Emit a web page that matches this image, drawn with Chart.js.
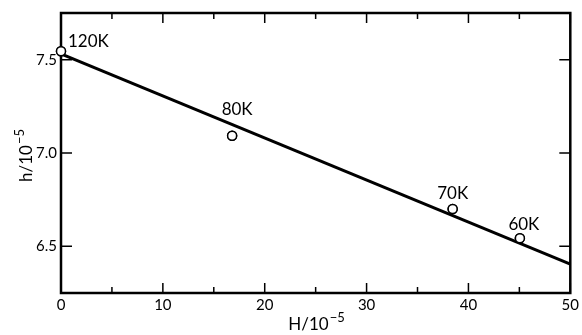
<!DOCTYPE html>
<html>
<head>
<meta charset="utf-8">
<script src="https://cdn.jsdelivr.net/npm/chart.js@4"></script>
<style>
  html, body { margin: 0; padding: 0; background: #fff; }
  #wrap { width: 582px; height: 335px; position: relative; }
</style>
</head>
<body>
<div id="wrap"><canvas id="c"></canvas></div>
<script>
// ---- data ----
const pointH = [0, 16.8, 38.45, 45.05];          // H / 10^-5
const pointh = [7.545, 7.092, 6.70, 6.543];      // h / 10^-5
const pointLabels = ['120K', '80K', '70K', '60K'];
const fitH = [0, 50];
const fith = [7.531, 6.405];
const xTickValues = [0, 10, 20, 30, 40, 50];
const xMinorTickValues = [5, 15, 25, 35, 45];
const yTickValues = [6.5, 7.0, 7.5];

const FONT = 'Lato, "DejaVu Sans", sans-serif';

const framePlugin = {
  id: 'frame',
  afterDraw(chart) {
    const ctx = chart.ctx;
    const a = chart.chartArea;
    const xs = chart.scales.x, ys = chart.scales.y;
    ctx.save();
    ctx.strokeStyle = '#000';
    ctx.lineWidth = 1.5;
    ctx.beginPath();
    xTickValues.forEach(v => {
      const p = xs.getPixelForValue(v);
      ctx.moveTo(p, a.bottom); ctx.lineTo(p, a.bottom - 10);
      ctx.moveTo(p, a.top); ctx.lineTo(p, a.top + 10);
    });
    xMinorTickValues.forEach(v => {
      const p = xs.getPixelForValue(v);
      ctx.moveTo(p, a.bottom); ctx.lineTo(p, a.bottom - 6);
      ctx.moveTo(p, a.top); ctx.lineTo(p, a.top + 6);
    });
    yTickValues.forEach(v => {
      const p = ys.getPixelForValue(v);
      ctx.moveTo(a.left, p); ctx.lineTo(a.left + 11, p);
      ctx.moveTo(a.right, p); ctx.lineTo(a.right - 11, p);
    });
    ctx.stroke();
    ctx.lineWidth = 2.5;
    ctx.strokeRect(a.left, a.top, a.right - a.left, a.bottom - a.top);

    // redraw the points on top of the frame so the one at H=0 is whole
    const meta = chart.getDatasetMeta(1);
    ctx.lineWidth = 1.5;
    meta.data.forEach(pt => {
      ctx.beginPath();
      ctx.arc(pt.x, pt.y, 4.5, 0, Math.PI * 2);
      ctx.fillStyle = '#fff';
      ctx.fill();
      ctx.stroke();
    });

    const offsets = [[7, -10, 'left'], [5, -26, 'center'], [0, -15, 'center'], [4, -14, 'center']];
    ctx.fillStyle = '#000';
    ctx.font = '17px ' + FONT;
    ctx.textBaseline = 'middle';
    pointLabels.forEach((t, i) => {
      const px = xs.getPixelForValue(pointH[i]);
      const py = ys.getPixelForValue(pointh[i]);
      ctx.textAlign = offsets[i][2];
      ctx.fillText(t, px + offsets[i][0], py + offsets[i][1]);
    });

    function titled(main, sup, x, y) {
      ctx.font = '17px ' + FONT;
      const w1 = ctx.measureText(main).width;
      ctx.font = '13px ' + FONT;
      const w2 = ctx.measureText(sup).width;
      const start = x - (w1 + w2) / 2;
      ctx.textAlign = 'left';
      ctx.textBaseline = 'alphabetic';
      ctx.font = '17px ' + FONT;
      ctx.fillText(main, start, y);
      ctx.font = '13px ' + FONT;
      ctx.fillText(sup, start + w1 + 1, y - 8);
    }
    titled('H/10', '\u22125', 316, 330);
    ctx.save();
    ctx.translate(32, 156);
    ctx.rotate(-Math.PI / 2);
    titled('h/10', '\u22125', 0, 0);
    ctx.restore();
    ctx.restore();
  }
};

new Chart(document.getElementById('c'), {
  type: 'scatter',
  data: {
    datasets: [
      {
        label: 'fit',
        data: fitH.map((x, i) => ({ x, y: fith[i] })),
        showLine: true,
        borderColor: '#000',
        borderWidth: 3,
        pointRadius: 0,
        order: 2
      },
      {
        label: 'points',
        data: pointH.map((x, i) => ({ x, y: pointh[i] })),
        showLine: false,
        clip: false,
        pointRadius: 4.5,
        pointBackgroundColor: '#fff',
        pointBorderColor: '#000',
        pointBorderWidth: 1.5,
        order: 1
      }
    ]
  },
  options: {
    responsive: true,
    maintainAspectRatio: false,
    animation: false,
    events: [],
    layout: { padding: { top: 5, right: 9, left: 0, bottom: 0 } },
    plugins: { legend: { display: false }, tooltip: { enabled: false } },
    scales: {
      x: {
        type: 'linear', min: 0, max: 50,
        afterFit(s) { s.height = 42; },
        grid: { display: false, drawTicks: false },
        border: { display: false },
        ticks: {
          stepSize: 10, padding: 3, color: '#000',
          font: { family: FONT, size: 15 },
          callback: v => xTickValues.includes(v) ? String(v) : ''
        }
      },
      y: {
        type: 'linear', min: 6.25, max: 7.75,
        afterFit(s) { s.width = 61; },
        afterBuildTicks(s) { s.ticks = yTickValues.map(v => ({ value: v })); },
        grid: { display: false, drawTicks: false },
        border: { display: false },
        ticks: {
          padding: 4, color: '#000',
          font: { family: FONT, size: 15 },
          callback: v => v.toFixed(1)
        }
      }
    }
  },
  plugins: [framePlugin]
});
</script>
</body>
</html>
